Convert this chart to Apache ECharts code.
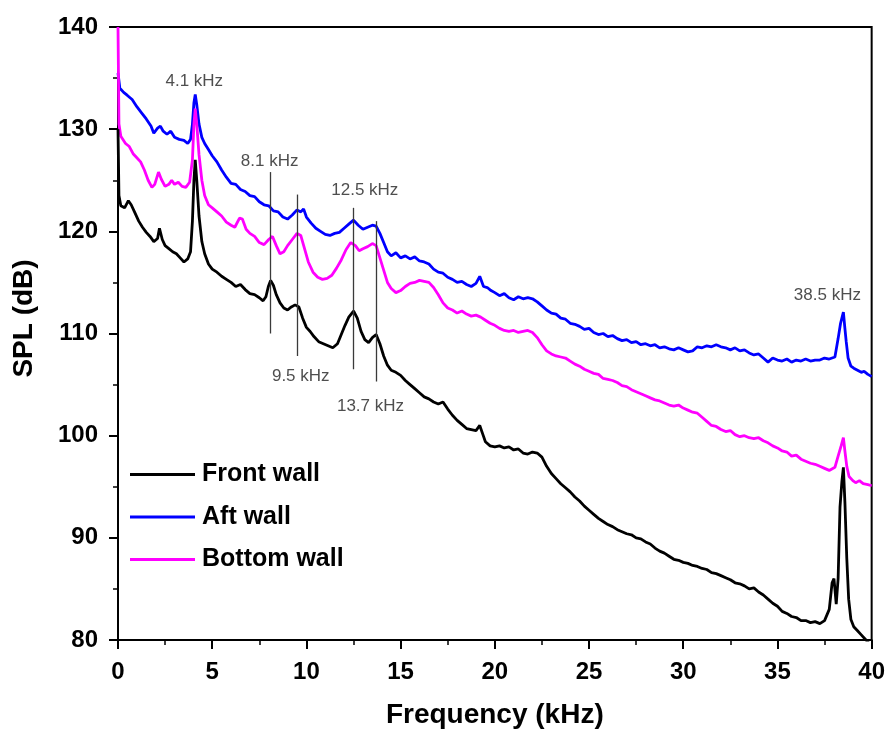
<!DOCTYPE html>
<html>
<head>
<meta charset="utf-8">
<title>SPL spectra</title>
<script src="https://cdn.jsdelivr.net/npm/echarts@6/dist/echarts.min.js"></script>
<style>
  html, body { margin: 0; padding: 0; background: #fff; }
  #chart { width: 888px; height: 734px; }
</style>
</head>
<body>
<div id="chart"></div>
<script>
// Sound pressure level spectra [frequency kHz, SPL dB] for the three walls
const frontWall = [
  [0,130],[0.05,123.5],[0.15,122.5],[0.35,122.3],[0.55,123.0],[0.7,122.6],[0.9,121.8],[1.1,121.0],
  [1.3,120.4],[1.5,119.9],[1.7,119.5],[1.9,119.0],[2.1,119.3],[2.2,120.3],[2.35,119.2],[2.5,118.6],
  [2.7,118.3],[2.9,118.0],[3.1,117.8],[3.3,117.4],[3.5,117.0],[3.7,117.3],[3.85,118.0],[3.95,121.0],
  [4.03,125.0],[4.1,127.0],[4.18,125.0],[4.3,121.5],[4.45,119.0],[4.6,117.8],[4.8,116.8],[5.0,116.3],
  [5.25,116.0],[5.5,115.6],[5.75,115.3],[6.0,115.0],[6.25,114.6],[6.5,114.8],[6.75,114.3],[7.0,113.9],
  [7.25,113.8],[7.5,113.5],[7.7,113.2],[7.85,113.6],[7.98,114.6],[8.1,115.2],[8.25,114.7],[8.4,113.8],
  [8.6,113.0],[8.8,112.5],[9.0,112.3],[9.2,112.6],[9.4,112.8],[9.6,112.6],[9.8,111.5],[10.0,110.6],
  [10.2,110.2],[10.4,109.7],[10.65,109.2],[10.9,109.0],[11.15,108.8],[11.4,108.6],[11.65,109.0],[11.85,109.9],
  [12.05,110.8],[12.25,111.6],[12.5,112.2],[12.7,111.5],[12.9,110.2],[13.1,109.4],[13.3,109.1],[13.5,109.6],
  [13.7,109.9],[13.9,109.0],[14.1,107.8],[14.3,106.9],[14.5,106.4],[14.75,106.2],[15.0,105.9],[15.25,105.4],
  [15.5,105.0],[15.75,104.6],[16.0,104.2],[16.25,103.8],[16.5,103.6],[16.75,103.3],[17.0,103.1],[17.25,103.3],
  [17.5,102.6],[17.75,102.0],[18.0,101.5],[18.25,101.1],[18.5,100.7],[18.75,100.6],[19.0,100.5],[19.2,101.0],
  [19.35,100.2],[19.5,99.4],[19.75,99.0],[20.0,98.9],[20.25,99.0],[20.5,98.8],[20.75,98.9],[21.0,98.6],
  [21.25,98.7],[21.5,98.3],[21.75,98.2],[22.0,98.4],[22.25,98.3],[22.5,97.9],[22.75,97.0],[23.0,96.3],
  [23.25,95.8],[23.5,95.3],[23.75,94.9],[24.0,94.5],[24.25,94.0],[24.5,93.6],[24.75,93.1],[25.0,92.7],
  [25.25,92.3],[25.5,91.9],[25.75,91.6],[26.0,91.3],[26.25,91.1],[26.5,90.8],[26.75,90.6],[27.0,90.4],
  [27.25,90.3],[27.5,90.0],[27.75,89.9],[28.0,89.6],[28.25,89.4],[28.5,89.0],[28.75,88.7],[29.0,88.5],
  [29.25,88.2],[29.5,87.9],[29.75,87.8],[30.0,87.6],[30.25,87.5],[30.5,87.3],[30.75,87.2],[31.0,87.0],
  [31.25,86.9],[31.5,86.6],[31.75,86.5],[32.0,86.3],[32.25,86.1],[32.5,85.9],[32.75,85.6],[33.0,85.5],
  [33.25,85.3],[33.5,85.0],[33.75,85.1],[34.0,84.7],[34.25,84.4],[34.5,84.0],[34.75,83.6],[35.0,83.3],
  [35.25,82.8],[35.5,82.6],[35.75,82.3],[36.0,82.2],[36.25,81.9],[36.5,81.9],[36.75,81.7],[37.0,81.8],
  [37.25,81.6],[37.5,81.9],[37.75,83.0],[37.9,85.6],[38.0,86.0],[38.12,83.5],[38.22,86.0],[38.32,93.0],
  [38.42,95.5],[38.5,96.9],[38.58,93.5],[38.68,88.0],[38.78,84.0],[38.9,82.0],[39.05,81.3],[39.25,80.9],
  [39.45,80.5],[39.65,80.1],[39.85,79.7],[40.0,79.5]
];

const aftWall = [
  [0,135.5],[0.1,134.0],[0.3,133.6],[0.5,133.3],[0.75,132.9],[1.0,132.2],[1.25,131.6],[1.5,131.0],
  [1.75,130.3],[1.9,129.6],[2.1,130.1],[2.25,130.3],[2.4,129.8],[2.6,129.5],[2.8,129.8],[3.0,129.2],
  [3.25,129.0],[3.5,128.9],[3.7,128.6],[3.85,129.0],[3.95,130.5],[4.03,132.6],[4.1,133.4],[4.18,132.4],
  [4.3,130.5],[4.45,129.2],[4.6,128.6],[4.8,128.0],[5.0,127.4],[5.25,126.8],[5.5,126.0],[5.75,125.3],
  [6.0,124.7],[6.25,124.6],[6.5,124.1],[6.75,123.9],[7.0,123.5],[7.25,123.4],[7.5,122.9],[7.75,122.6],
  [8.0,122.5],[8.25,122.0],[8.5,121.9],[8.75,121.4],[9.0,121.2],[9.25,121.6],[9.5,122.1],[9.7,121.9],
  [9.85,122.2],[10.0,121.4],[10.25,120.8],[10.5,120.3],[10.75,120.0],[11.0,119.7],[11.25,119.6],[11.5,119.8],
  [11.75,119.9],[12.0,120.3],[12.25,120.7],[12.5,121.1],[12.75,120.6],[13.0,120.2],[13.25,120.4],[13.5,120.6],
  [13.7,120.5],[13.9,119.8],[14.1,118.9],[14.3,118.0],[14.5,117.6],[14.75,117.9],[15.0,117.4],[15.25,117.6],
  [15.5,117.3],[15.75,117.5],[16.0,117.1],[16.25,117.0],[16.5,116.8],[16.75,116.3],[17.0,116.0],[17.25,115.9],
  [17.5,115.5],[17.75,115.3],[18.0,115.0],[18.25,115.1],[18.5,114.8],[18.75,114.6],[19.0,114.9],[19.2,115.6],
  [19.4,114.6],[19.6,114.5],[19.8,114.2],[20.0,114.0],[20.25,113.7],[20.5,113.9],[20.75,113.5],[21.0,113.3],
  [21.25,113.6],[21.5,113.4],[21.75,113.5],[22.0,113.4],[22.25,113.1],[22.5,112.7],[22.75,112.3],[23.0,112.0],
  [23.25,111.9],[23.5,111.5],[23.75,111.4],[24.0,111.0],[24.25,110.9],[24.5,110.7],[24.75,110.4],[25.0,110.5],
  [25.25,110.1],[25.5,109.9],[25.75,110.0],[26.0,109.7],[26.25,109.8],[26.5,109.5],[26.75,109.3],[27.0,109.4],
  [27.25,109.1],[27.5,109.2],[27.75,108.9],[28.0,109.0],[28.25,108.8],[28.5,108.9],[28.75,108.6],[29.0,108.7],
  [29.25,108.5],[29.5,108.4],[29.75,108.6],[30.0,108.4],[30.25,108.2],[30.5,108.3],[30.75,108.7],[31.0,108.6],
  [31.25,108.8],[31.5,108.7],[31.75,108.9],[32.0,108.7],[32.25,108.6],[32.5,108.4],[32.75,108.6],[33.0,108.3],
  [33.25,108.4],[33.5,108.1],[33.75,107.9],[34.0,108.0],[34.25,107.6],[34.5,107.2],[34.75,107.6],[35.0,107.4],
  [35.25,107.3],[35.5,107.5],[35.75,107.2],[36.0,107.4],[36.25,107.3],[36.5,107.5],[36.75,107.3],[37.0,107.4],
  [37.25,107.4],[37.5,107.6],[37.75,107.5],[38.05,107.7],[38.22,109.5],[38.35,111.0],[38.5,112.1],[38.58,110.5],
  [38.65,109.2],[38.75,107.6],[38.9,106.8],[39.05,106.6],[39.25,106.4],[39.45,106.2],[39.6,106.3],[39.8,106.0],
  [40.0,105.8]
];

const bottomWall = [
  [0,140],[0.05,130.5],[0.15,129.3],[0.4,128.6],[0.6,128.3],[0.8,127.6],[1.0,127.2],[1.2,126.8],
  [1.4,126.0],[1.6,125.0],[1.8,124.3],[1.95,124.6],[2.15,125.8],[2.3,125.1],[2.5,124.4],[2.7,124.6],
  [2.85,125.0],[3.0,124.6],[3.2,124.8],[3.4,124.4],[3.6,124.3],[3.8,124.8],[3.95,127.0],[4.03,130.5],
  [4.1,132.0],[4.18,130.5],[4.3,127.5],[4.45,125.0],[4.6,123.5],[4.8,122.6],[5.0,122.3],[5.25,121.9],
  [5.5,121.5],[5.75,120.9],[6.0,120.6],[6.2,120.4],[6.45,121.3],[6.6,121.2],[6.8,120.2],[7.0,119.8],
  [7.25,119.5],[7.5,118.9],[7.75,118.7],[8.0,119.2],[8.2,119.5],[8.4,118.6],[8.6,117.8],[8.8,118.0],
  [9.0,118.6],[9.25,119.2],[9.5,119.8],[9.7,119.6],[9.9,118.3],[10.1,117.0],[10.35,116.0],[10.6,115.5],
  [10.85,115.3],[11.1,115.4],[11.35,115.7],[11.6,116.4],[11.85,117.2],[12.1,118.2],[12.35,118.9],[12.6,118.6],
  [12.8,118.1],[13.0,118.3],[13.25,118.5],[13.5,118.8],[13.7,118.6],[13.9,117.4],[14.1,116.2],[14.3,115.0],
  [14.5,114.4],[14.75,114.0],[15.0,114.2],[15.25,114.6],[15.5,114.9],[15.75,115.0],[16.0,115.2],[16.25,115.1],
  [16.5,115.0],[16.75,114.5],[17.0,113.8],[17.25,113.0],[17.5,112.5],[17.75,112.3],[18.0,112.0],[18.25,112.2],
  [18.5,111.9],[18.75,111.7],[19.0,111.8],[19.25,111.6],[19.5,111.3],[19.75,111.0],[20.0,110.8],[20.25,110.5],
  [20.5,110.3],[20.75,110.2],[21.0,110.3],[21.25,110.1],[21.5,110.2],[21.75,110.3],[22.0,110.1],[22.25,109.6],
  [22.5,108.9],[22.75,108.3],[23.0,108.0],[23.25,107.8],[23.5,107.7],[23.75,107.6],[24.0,107.3],[24.25,107.0],
  [24.5,106.8],[24.75,106.5],[25.0,106.3],[25.25,106.1],[25.5,106.0],[25.75,105.6],[26.0,105.5],[26.25,105.4],
  [26.5,105.2],[26.75,104.9],[27.0,104.8],[27.25,104.5],[27.5,104.3],[27.75,104.1],[28.0,103.9],[28.25,103.7],
  [28.5,103.5],[28.75,103.4],[29.0,103.2],[29.25,103.0],[29.5,102.9],[29.75,103.0],[30.0,102.7],[30.25,102.5],
  [30.5,102.3],[30.75,102.2],[31.0,101.8],[31.25,101.4],[31.5,101.0],[31.75,100.9],[32.0,100.6],[32.25,100.4],
  [32.5,100.5],[32.75,100.1],[33.0,99.9],[33.25,100.0],[33.5,99.8],[33.75,99.7],[34.0,99.8],[34.25,99.5],
  [34.5,99.3],[34.75,99.0],[35.0,98.8],[35.25,98.5],[35.5,98.4],[35.75,98.0],[36.0,98.1],[36.25,97.7],
  [36.5,97.5],[36.75,97.3],[37.0,97.2],[37.25,97.0],[37.5,96.8],[37.75,96.6],[38.05,96.9],[38.22,98.0],
  [38.38,99.0],[38.5,99.8],[38.58,98.5],[38.68,97.0],[38.8,96.0],[39.0,95.6],[39.15,95.4],[39.35,95.6],
  [39.55,95.3],[39.8,95.2],[40.0,95.1]
];

// Frequencies of the marked peaks and the extent of their guide lines (dB)
const guideFreq = [8.1, 9.5, 12.5, 13.7];
const guideTop = [125.8, 123.6, 122.3, 121.0];
const guideBottom = [110.0, 107.8, 106.5, 105.3];

// Peak callouts: frequency named by the label and where the label sits
const calloutFreq = [4.1, 8.1, 12.5, 9.5, 13.7, 38.5];
const calloutX = [4.05, 8.05, 13.1, 9.7, 13.4, 37.65];
const calloutY = [134.7, 126.9, 124.0, 105.85, 102.9, 113.7];

const seriesNames = ['Front wall', 'Aft wall', 'Bottom wall'];
const xTicks = { min: 0, max: 40, step: 5 };
const yTicks = { min: 80, max: 140, step: 10 };

const FONT = "'Liberation Sans', Arial, sans-serif";

const chart = echarts.init(document.getElementById('chart'), null, { renderer: 'canvas' });

const axisCommon = {
  axisLine: { show: true, onZero: false, lineStyle: { color: '#000', width: 2 } },
  axisTick: { show: true, inside: false, length: 9, lineStyle: { color: '#000', width: 2 } },
  minorTick: { show: true, splitNumber: 2, length: 5, lineStyle: { color: '#000', width: 1.5 } },
  splitLine: { show: false },
  minorSplitLine: { show: false },
  axisLabel: { color: '#000', fontSize: 24, fontWeight: 'bold', fontFamily: FONT },
  nameTextStyle: { color: '#000', fontSize: 28, fontWeight: 'bold', fontFamily: FONT }
};

function lineSeries(name, data, color) {
  return {
    name: name,
    type: 'line',
    data: data,
    showSymbol: false,
    symbol: 'none',
    smooth: false,
    clip: true,
    lineStyle: { color: color, width: 2.8 },
    itemStyle: { color: color },
    emphasis: { disabled: true },
    z: 3
  };
}

const option = {
  backgroundColor: '#fff',
  animation: false,
  grid: {
    left: 118, right: 14, top: 27, bottom: 92,
    show: true, borderColor: '#000', borderWidth: 2, backgroundColor: 'transparent'
  },
  legend: {
    data: seriesNames,
    orient: 'vertical',
    left: 130,
    top: 462,
    padding: 0,
    itemWidth: 65,
    itemHeight: 20,
    itemGap: 17.5,
    icon: 'path://M0,0 L65,0 L65,3 L0,3 Z',
    textStyle: { color: '#000', fontSize: 25, fontWeight: 'bold', fontFamily: FONT, padding: [0, 0, 0, 2] }
  },
  xAxis: Object.assign({}, axisCommon, {
    type: 'value',
    min: xTicks.min, max: xTicks.max, interval: xTicks.step,
    name: 'Frequency (kHz)',
    nameLocation: 'middle',
    nameGap: 61,
    axisLabel: Object.assign({}, axisCommon.axisLabel, { margin: 20 })
  }),
  yAxis: Object.assign({}, axisCommon, {
    type: 'value',
    min: yTicks.min, max: yTicks.max, interval: yTicks.step,
    name: 'SPL (dB)',
    nameLocation: 'middle',
    nameGap: 80,
    nameTextStyle: Object.assign({}, axisCommon.nameTextStyle, { padding: [0, 0, 0, 30] }),
    axisLabel: Object.assign({}, axisCommon.axisLabel, { margin: 20 })
  }),
  series: [
    lineSeries('Aft wall', aftWall, '#0000ff'),
    lineSeries('Bottom wall', bottomWall, '#ff00ff'),
    lineSeries('Front wall', frontWall, '#000000'),
    {
      name: 'callouts',
      type: 'scatter',
      symbolSize: 0,
      silent: true,
      z: 4,
      data: calloutFreq.map((f, i) => ({ value: [calloutX[i], calloutY[i]], name: f.toFixed(1) + ' kHz' })),
      label: {
        show: true,
        position: 'inside',
        formatter: p => p.name,
        color: '#222',
        fontSize: 17,
        fontFamily: FONT
      },
      markLine: {
        silent: true,
        symbol: 'none',
        animation: false,
        label: { show: false },
        lineStyle: { color: '#3a3a3a', width: 1.3, type: 'solid' },
        emphasis: { disabled: true },
        data: guideFreq.map((f, i) => [
          { coord: [f, guideTop[i]] },
          { coord: [f, guideBottom[i]] }
        ])
      }
    }
  ]
};

chart.setOption(option);
</script>
</body>
</html>
